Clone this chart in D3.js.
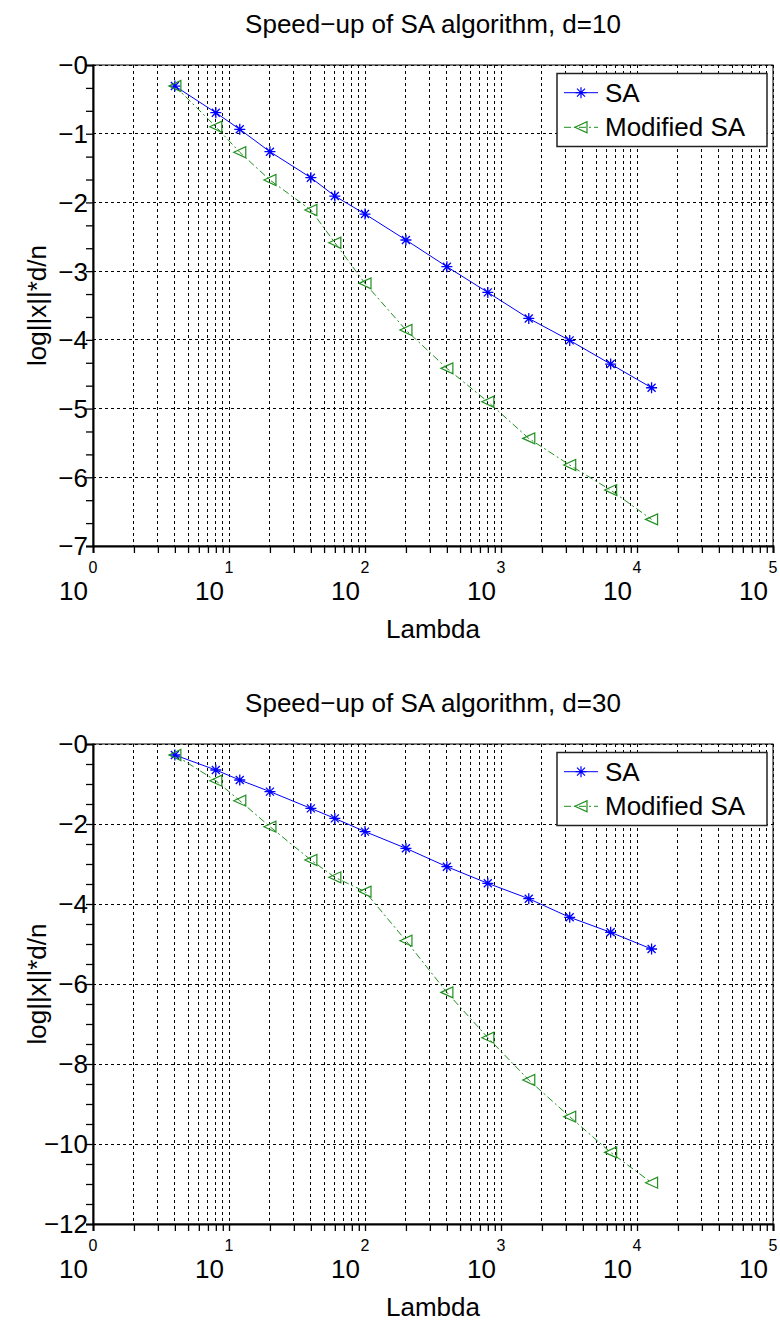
<!DOCTYPE html>
<html>
<head>
<meta charset="utf-8">
<script src="https://cdn.jsdelivr.net/npm/d3@7"></script>
<style>
  body { margin: 0; background: #fff; }
  svg { display: block; }
  text { font-family: "Liberation Sans", Arial, sans-serif; fill: #000; }
</style>
</head>
<body>
<script>
// ---- data ----
const lambdaValues = [4, 8, 12, 20, 40, 60, 100, 200, 400, 800, 1600, 3200, 6400, 12800];
const saD10  = [-0.306, -0.694, -0.936, -1.262, -1.640, -1.907, -2.169, -2.547, -2.935, -3.309, -3.688, -4.008, -4.352, -4.697];
const modD10 = [-0.306, -0.898, -1.270, -1.674, -2.111, -2.586, -3.178, -3.857, -4.415, -4.900, -5.434, -5.822, -6.186, -6.613];
const saD30  = [-0.275, -0.650, -0.900, -1.190, -1.610, -1.860, -2.190, -2.608, -3.067, -3.483, -3.867, -4.333, -4.708, -5.125];
const modD30 = [-0.275, -0.917, -1.417, -2.067, -2.900, -3.333, -3.690, -4.917, -6.210, -7.342, -8.400, -9.317, -10.210, -10.967];
const yTicksD10 = [0, -1, -2, -3, -4, -5, -6, -7];
const yTicksD30 = [0, -2, -4, -6, -8, -10, -12];
const xTickExponents = [0, 1, 2, 3, 4, 5];
const seriesNames = ["SA", "Modified SA"];
const titles = ["Speed\u2212up of SA algorithm, d=10", "Speed\u2212up of SA algorithm, d=30"];

const W = 780, H = 1321;
const svg = d3.select("body").append("svg").attr("width", W).attr("height", H);

const blue = "#0000ff", green = "#1f8f1f";

function fmtY(v) { return "\u2212" + Math.abs(v); }

function drawPanel(cfg) {
  const left = 93, right = 773, top = cfg.top, bottom = cfg.bottom;
  const x = d3.scaleLog().domain([1, 1e5]).range([left, right]);
  const y = d3.scaleLinear().domain([cfg.yMin, 0]).range([bottom, top]);
  const g = svg.append("g");

  // vertical grid (all log ticks)
  const xt = x.ticks();
  g.append("g").selectAll("line").data(xt).join("line")
    .attr("x1", d => x(d)).attr("x2", d => x(d))
    .attr("y1", top).attr("y2", bottom)
    .attr("stroke", "#000").attr("stroke-width", 1).attr("stroke-dasharray", "3,3")
    .attr("shape-rendering", "crispEdges");
  // horizontal grid
  g.append("g").selectAll("line").data(cfg.yTicks).join("line")
    .attr("x1", left).attr("x2", right)
    .attr("y1", d => y(d)).attr("y2", d => y(d))
    .attr("stroke", "#000").attr("stroke-width", 1).attr("stroke-dasharray", "3,3")
    .attr("shape-rendering", "crispEdges");

  // frame
  g.append("rect").attr("x", left).attr("y", top).attr("width", right - left).attr("height", bottom - top)
    .attr("fill", "none").attr("stroke", "#000").attr("stroke-width", 1);

  // x axis
  const xAxis = d3.axisBottom(x).tickValues(xt).tickSize(7).tickFormat("");
  const xa = g.append("g").attr("transform", `translate(0,${bottom})`).call(xAxis);
  xa.select(".domain").attr("stroke-width", 2);
  xa.selectAll(".tick line").attr("stroke-width", 1.3);
  // x labels: 10 with exponent
  const xl = g.append("g");
  xl.selectAll("text.exp").data(xTickExponents).join("text").attr("class", "exp")
    .attr("x", d => x(Math.pow(10, d))).attr("y", bottom + 27)
    .attr("text-anchor", "middle").attr("font-size", 16).text(d => d);
  xl.selectAll("text.base").data(xTickExponents).join("text").attr("class", "base")
    .attr("x", d => x(Math.pow(10, d)) - 5).attr("y", bottom + 54)
    .attr("text-anchor", "end").attr("font-size", 26).text("10");

  // y axis
  const yMinor = d3.range(0, cfg.yMin - 1e-9, -cfg.minorStep);
  const yAxis = d3.axisLeft(y).tickValues(yMinor).tickSize(7).tickFormat("");
  const ya = g.append("g").attr("transform", `translate(${left},0)`).call(yAxis);
  ya.select(".domain").attr("stroke-width", 2);
  ya.selectAll(".tick line").attr("stroke-width", 1.3);
  g.append("g").selectAll("text").data(cfg.yTicks).join("text")
    .attr("x", left - 5).attr("y", d => y(d)).attr("dy", "0.36em")
    .attr("text-anchor", "end").attr("font-size", 26).text(fmtY);

  // lines
  const line = d3.line().x(d => x(d[0])).y(d => y(d[1]));
  const saPts = lambdaValues.map((l, i) => [l, cfg.sa[i]]);
  const modPts = lambdaValues.map((l, i) => [l, cfg.mod[i]]);
  g.append("path").datum(modPts).attr("d", line).attr("fill", "none")
    .attr("stroke", green).attr("stroke-width", 1).attr("stroke-dasharray", "7,3,2,3");
  g.append("path").datum(saPts).attr("d", line).attr("fill", "none")
    .attr("stroke", blue).attr("stroke-width", 1);

  // markers
  const star = "M-5.5,0L5.5,0M0,-5.5L0,5.5M-4,-4L4,4M-4,4L4,-4";
  const tri = "M-6,0L6,-5.5L6,5.5Z";
  g.append("g").selectAll("path").data(saPts).join("path")
    .attr("transform", d => `translate(${x(d[0])},${y(d[1])})`)
    .attr("d", star).attr("stroke", blue).attr("stroke-width", 1.3).attr("fill", "none");
  g.append("g").selectAll("path").data(modPts).join("path")
    .attr("transform", d => `translate(${x(d[0])},${y(d[1])})`)
    .attr("d", tri).attr("stroke", green).attr("stroke-width", 1.2).attr("fill", "none");

  // title
  g.append("text").attr("x", (left + right) / 2).attr("y", top - 32)
    .attr("text-anchor", "middle").attr("font-size", 26).text(cfg.title);
  // x label
  g.append("text").attr("x", (left + right) / 2).attr("y", bottom + 92)
    .attr("text-anchor", "middle").attr("font-size", 26).text("Lambda");
  // y label
  g.append("text").attr("transform", `translate(46,${(top + bottom) / 2}) rotate(-90)`)
    .attr("text-anchor", "middle").attr("font-size", 26).text("log||x||*d/n");

  // legend
  const lg = g.append("g");
  const lx0 = 557, lx1 = 767, ly0 = top + 8.5, ly1 = top + 81.5;
  lg.append("rect").attr("x", lx0).attr("y", ly0).attr("width", lx1 - lx0).attr("height", ly1 - ly0)
    .attr("fill", "#fff").attr("stroke", "#222").attr("stroke-width", 1.5);
  const items = [
    {name: seriesNames[0], color: blue, mk: star, dash: null, ly: top + 27.7, ty: top + 36.7},
    {name: seriesNames[1], color: green, mk: tri, dash: "7,3,2,3", ly: top + 62.3, ty: top + 70.7}
  ];
  items.forEach(it => {
    lg.append("line").attr("x1", 564).attr("x2", 598).attr("y1", it.ly).attr("y2", it.ly)
      .attr("stroke", it.color).attr("stroke-width", 1)
      .attr("stroke-dasharray", it.dash);
    lg.append("path").attr("transform", `translate(581,${it.ly})`).attr("d", it.mk)
      .attr("stroke", it.color).attr("stroke-width", 1.2).attr("fill", "none");
    lg.append("text").attr("x", 605).attr("y", it.ty).attr("font-size", 26).text(it.name);
  });
}

drawPanel({top: 65, bottom: 546, yMin: -7, yTicks: yTicksD10, minorStep: 1/3, sa: saD10, mod: modD10, title: titles[0]});
drawPanel({top: 744, bottom: 1224, yMin: -12, yTicks: yTicksD30, minorStep: 0.5, sa: saD30, mod: modD30, title: titles[1]});
</script>
</body>
</html>
